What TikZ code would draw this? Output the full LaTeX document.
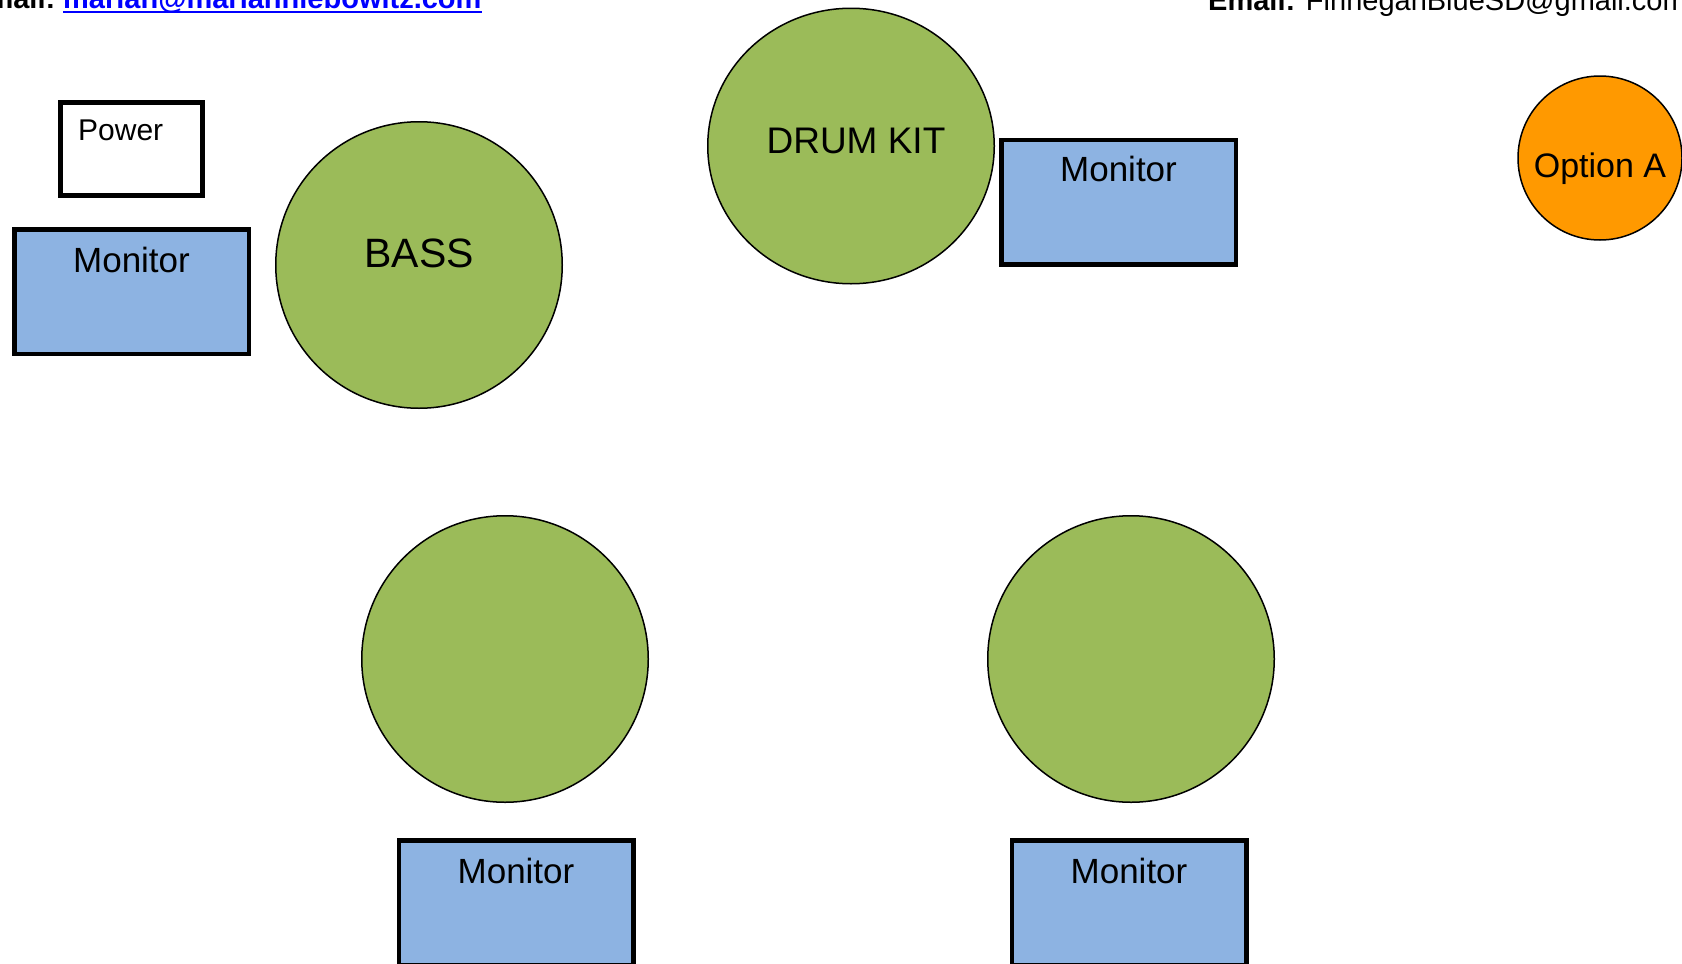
\documentclass[tikz,border=0pt]{standalone}
\usepackage{fontspec}
\setmainfont{Liberation Sans}
\usetikzlibrary{positioning,shapes.geometric}
\definecolor{stagegreen}{HTML}{9BBB59}
\definecolor{monblue}{HTML}{8DB3E2}
\definecolor{optorange}{HTML}{FF9900}
\definecolor{linkblue}{HTML}{0000FF}

\begin{document}
\begin{tikzpicture}[x=1pt,y=-1pt,
  spot/.style={circle,draw=black,line width=1.5pt,fill=stagegreen,
               minimum size=286.5pt,inner sep=0pt},
  mon/.style={rectangle,draw=black,line width=4.5pt,fill=monblue,
              minimum width=234.5pt,minimum height=124.5pt,inner sep=0pt},
  lbl/.style={font=\fontsize{35}{40}\selectfont,inner sep=0pt,anchor=base},
  hdr/.style={font=\fontsize{29}{34}\selectfont,inner sep=0pt,anchor=base west}
]
\useasboundingbox (0,0) rectangle (1682,964);
\clip (0,0) rectangle (1682,964);

% ---- Header -------------------------------------------------
\node[hdr] (mailL) at (-32,8) {\textbf{Email:}};
\node[hdr,text=linkblue] (link) at (63,8) {\textbf{marian@mariannlebowitz.com}};
\draw[linkblue,line width=2.5pt] ([yshift=-4pt]link.base west) -- ([yshift=-4pt]link.base east);
\node[hdr] (mailR) at (1208,10) {\textbf{Email:} FinneganBlueSD@gmail.com};

% ---- Power and left monitor ---------------------------------
\node[rectangle,draw=black,line width=5pt,fill=white,
      minimum width=142pt,minimum height=93pt] (power) at (131.5,148.5) {};
\node[font=\fontsize{30}{34}\selectfont,inner sep=0pt,anchor=base west] (powerlbl) at (78,140) {Power};

\node[mon] (monL) at (131.5,291.5) {};
\node[lbl] at ([yshift=-45pt]monL.north) {Monitor};

% ---- Bass ---------------------------------------------------
\node[spot] (bass) at (419,265) {};
\node[lbl,font=\fontsize{41}{46}\selectfont] at ([yshift=-2pt]bass.center) {BASS};

% ---- Drum kit and its monitor -------------------------------
\node[ellipse,draw=black,line width=1.5pt,fill=stagegreen,inner sep=0pt,
      minimum width=286.5pt,minimum height=275.5pt] (drums) at (851,146) {};
\node[lbl,font=\fontsize{37}{42}\selectfont] at ([xshift=5pt,yshift=-7pt]drums.center) {DRUM KIT};

\node[mon] (monD) at (1118.5,202) {};
\node[lbl] at ([yshift=-44pt]monD.north) {Monitor};

% ---- Option A -----------------------------------------------
\node[circle,draw=black,line width=1.5pt,fill=optorange,inner sep=0pt,
      minimum size=164pt] (optA) at (1600,158) {};
\node[lbl,font=\fontsize{34}{38}\selectfont] at ([yshift=-19pt]optA.center) {Option A};

% ---- Front positions ----------------------------------------
\node[spot] (frontL) at (505,659) {};
\node[spot] (frontR) at (1131,659) {};

\node[mon] (monFL) at (516,902.5) {};
\node[lbl] at ([yshift=-45pt]monFL.north) {Monitor};
\node[mon] (monFR) at (1129,902.5) {};
\node[lbl] at ([yshift=-45pt]monFR.north) {Monitor};

\end{tikzpicture}
\end{document}
